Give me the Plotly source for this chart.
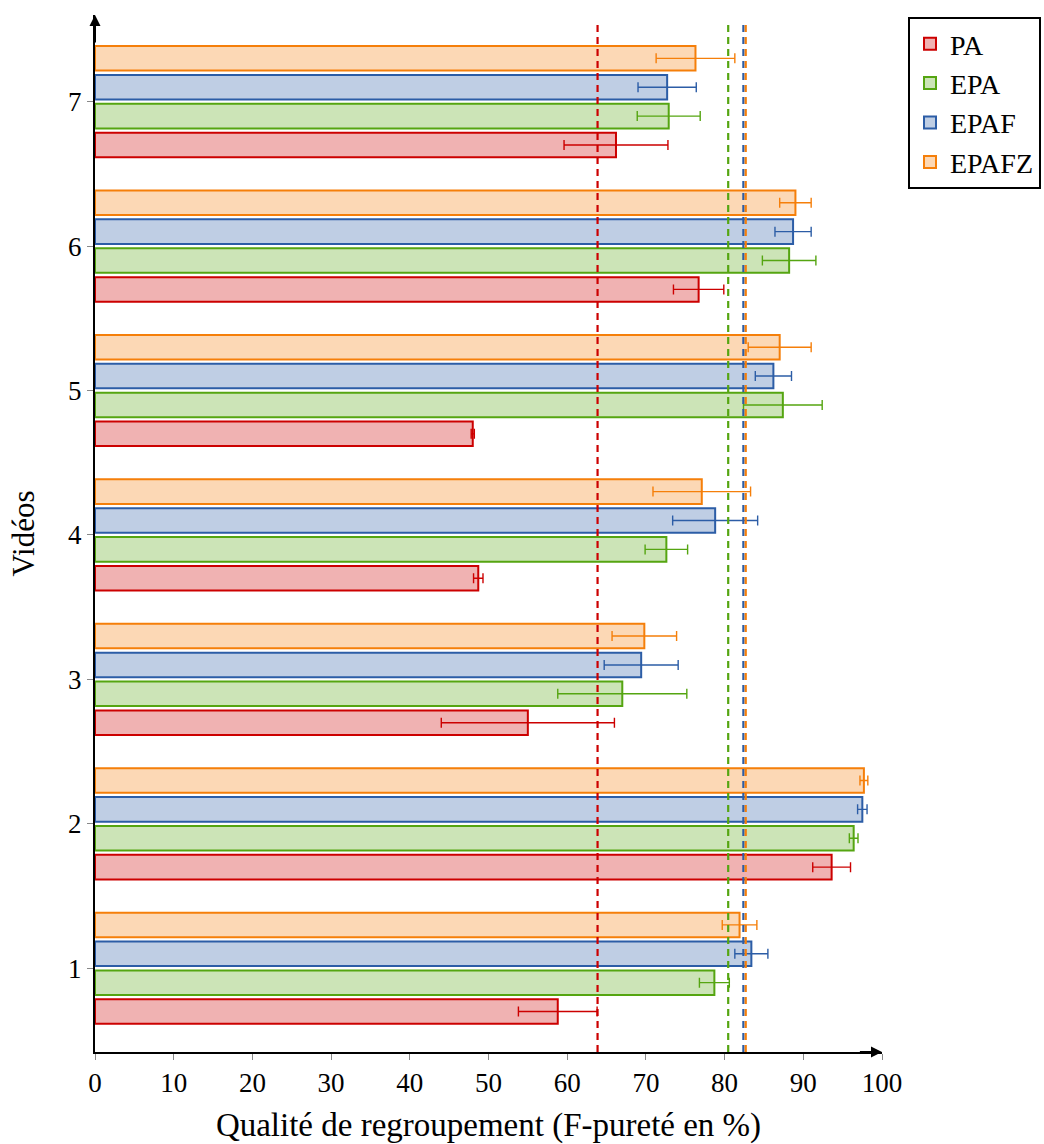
import plotly.graph_objects as go

# Videos (categories on the y axis)
videos = [1, 2, 3, 4, 5, 6, 7]

# F-purity (%) per method, with error half-widths
pa = [58.8, 93.6, 55.0, 48.7, 48.0, 76.7, 66.2]
pa_err = [5.0, 2.4, 11.0, 0.6, 0.2, 3.2, 6.6]

epa = [78.7, 96.4, 67.0, 72.6, 87.4, 88.2, 72.9]
epa_err = [1.9, 0.55, 8.2, 2.7, 5.0, 3.4, 4.0]

epaf = [83.4, 97.5, 69.4, 78.8, 86.2, 88.7, 72.7]
epaf_err = [2.1, 0.6, 4.7, 5.4, 2.3, 2.3, 3.7]

epafz = [81.9, 97.7, 69.8, 77.1, 87.0, 89.0, 76.3]
epafz_err = [2.2, 0.5, 4.1, 6.2, 4.0, 2.0, 5.0]

x_ticks = [0, 10, 20, 30, 40, 50, 60, 70, 80, 90, 100]

series = [
    ("PA", pa, pa_err, "#CC0000", "rgba(204,0,0,0.3)"),
    ("EPA", epa, epa_err, "#55A511", "rgba(85,165,17,0.3)"),
    ("EPAF", epaf, epaf_err, "#2C5DA6", "rgba(44,93,166,0.3)"),
    ("EPAFZ", epafz, epafz_err, "#F57F0A", "rgba(245,127,10,0.3)"),
]

FONT = "'Liberation Serif', 'DejaVu Serif', 'Times New Roman', serif"
fig = go.Figure()

for i, (name, vals, errs, edge, fill) in enumerate(series):
    fig.add_trace(go.Bar(
        name=name, y=videos, x=vals, orientation="h",
        marker=dict(color=fill, line=dict(color=edge, width=2)),
        error_x=dict(type="data", array=errs, color=edge, thickness=1.4, width=5),
        legendgroup=name,
    ))

# Mean of each method as a dashed vertical line
for name, vals, errs, edge, fill in series:
    mean = sum(vals) / len(vals)
    fig.add_shape(type="line", xref="x", yref="paper", x0=mean, x1=mean, y0=0, y1=0.995,
                  line=dict(color=edge, width=2.2, dash="7px,5px"), layer="above")

y_lo, y_hi = 0.42, 7.6

# Axis arrows
fig.add_annotation(x=100, y=y_lo, ax=97, ay=y_lo, xref="x", yref="y", axref="x", ayref="y",
                   showarrow=True, arrowhead=2, arrowsize=1.1, arrowwidth=2, arrowcolor="black", text="")
fig.add_annotation(x=0, y=y_hi, ax=0, ay=y_hi - 0.2, xref="x", yref="y", axref="x", ayref="y",
                   showarrow=True, arrowhead=2, arrowsize=1.1, arrowwidth=2, arrowcolor="black", text="")

fig.update_layout(
    width=1044, height=1144,
    margin=dict(l=95, r=162, t=15, b=92, autoexpand=False),
    plot_bgcolor="white", paper_bgcolor="white",
    barmode="group", bargap=0.2, bargroupgap=0.15,
    font=dict(family=FONT, size=27, color="black"),
    legend=dict(x=908 / 1044, y=1 - 17 / 1144, xref="container", yref="container",
                xanchor="left", yanchor="top",
                bordercolor="black", borderwidth=2, bgcolor="white",
                traceorder="normal", tracegroupgap=13,
                font=dict(family=FONT, size=28)),
    xaxis=dict(range=[0, 100], tickvals=x_ticks, showgrid=False, zeroline=False,
               showline=True, linecolor="black", linewidth=2, automargin=False,
               ticks="outside", ticklen=6, tickcolor="#888", tickwidth=1,
               tickfont=dict(family=FONT, size=27),
               title=dict(text="Qualité de regroupement (F-pureté en %)", standoff=18,
                          font=dict(family=FONT, size=33))),
    yaxis=dict(range=[y_lo, y_hi], tickvals=videos, showgrid=False, zeroline=False,
               showline=True, linecolor="black", linewidth=2, automargin=False,
               ticks="outside", ticklen=6, tickcolor="#888", tickwidth=1,
               tickfont=dict(family=FONT, size=27),
               title=dict(text="Vidéos", standoff=24, font=dict(family=FONT, size=31))),
)

fig.write_html("out.html")
